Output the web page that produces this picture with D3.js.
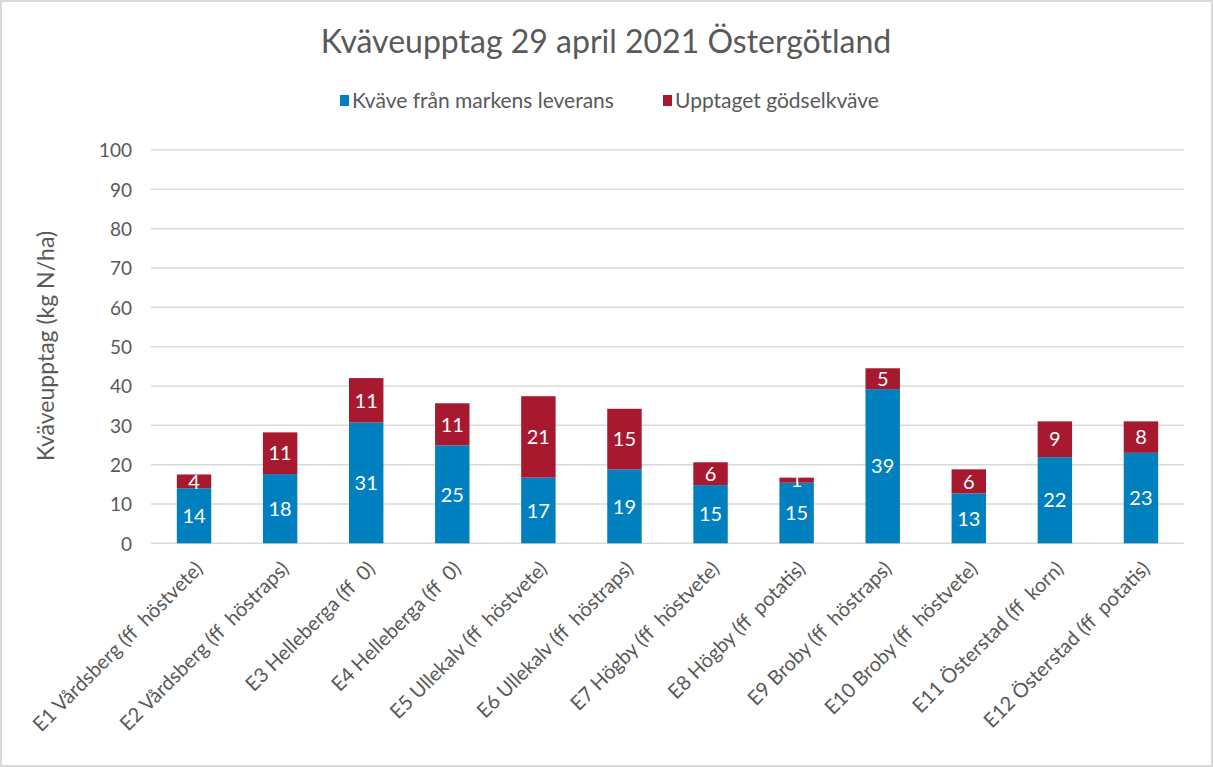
<!DOCTYPE html>
<html>
<head>
<meta charset="utf-8">
<script src="https://cdn.jsdelivr.net/npm/d3@7"></script>
<style>
  body { margin: 0; background: #fff; }
  text { font-family: Lato, "Open Sans", sans-serif; }
</style>
</head>
<body>
<div id="chart"></div>
<script>
var categories = [
  'E1 Vårdsberg (ff  höstvete)',
  'E2 Vårdsberg (ff  höstraps)',
  'E3 Helleberga (ff  0)',
  'E4 Helleberga (ff  0)',
  'E5 Ullekalv (ff  höstvete)',
  'E6 Ullekalv (ff  höstraps)',
  'E7 Högby (ff  höstvete)',
  'E8 Högby (ff  potatis)',
  'E9 Broby (ff  höstraps)',
  'E10 Broby (ff  höstvete)',
  'E11 Österstad (ff  korn)',
  'E12 Österstad (ff  potatis)'
]
var markValues = [14.0, 17.6, 30.7, 24.9, 16.7, 18.8, 14.8, 15.4, 39.2, 12.7, 21.9, 23.0]
var godselValues = [3.5, 10.6, 11.3, 10.7, 20.7, 15.4, 5.8, 1.3, 5.3, 6.1, 9.1, 8.0]
var seriesNames = ['Kväve från markens leverans', 'Upptaget gödselkväve']
var yTicks = [0, 10, 20, 30, 40, 50, 60, 70, 80, 90, 100]

var colors = ['#0080bf', '#a6192e']

var width = 1213,
    height = 767,
    margin = {left: 151, right: 29, top: 150, bottom: 224}

var svg = d3.select('#chart')
    .append('svg')
      .attr('width', width)
      .attr('height', height)

svg.append('rect')
    .attr('x', 1).attr('y', 1)
    .attr('width', width - 2).attr('height', height - 2)
    .attr('fill', '#fff')
    .attr('stroke', '#d9d9d9')
    .attr('stroke-width', 2)

var x = d3.scaleBand()
    .domain(categories)
    .range([margin.left, width - margin.right])
    .paddingInner(0.6)
    .paddingOuter(0.3)

var y = d3.scaleLinear()
    .domain([0, 100])
    .range([543.3, margin.top])

// gridlines
svg.append('g')
  .selectAll('line')
  .data(yTicks)
  .join('line')
    .attr('x1', margin.left)
    .attr('x2', width - margin.right)
    .attr('y1', function(d){ return y(d) })
    .attr('y2', function(d){ return y(d) })
    .attr('stroke', '#d9d9d9')
    .attr('stroke-width', 1.5)

// y axis labels
var yAxis = svg.append('g')
    .attr('transform', 'translate(' + (margin.left - 19) + ',0)')
    .call(d3.axisLeft(y).tickValues(yTicks).tickSize(0).tickPadding(0))
yAxis.select('.domain').remove()
yAxis.selectAll('text')
    .attr('fill', '#595959')
    .style('font-size', '19px')
    .style('font-family', 'Lato, sans-serif')
    .attr('dy', '0.36em')

// stacked data
var rows = categories.map(function(c, i){
  return {cat: c, mark: markValues[i], godsel: godselValues[i]}
})
var stacked = d3.stack().keys(['mark', 'godsel'])(rows)

var layers = svg.append('g')
  .selectAll('g')
  .data(stacked)
  .join('g')
    .attr('fill', function(d, i){ return colors[i] })

layers.selectAll('rect')
  .data(function(d){ return d })
  .join('rect')
    .attr('x', function(d){ return x(d.data.cat) })
    .attr('width', x.bandwidth())
    .attr('y', function(d){ return y(d[1]) })
    .attr('height', function(d){ return y(d[0]) - y(d[1]) })

// data labels
var labels = svg.append('g')
stacked.forEach(function(layer){
  labels.selectAll(null)
    .data(layer)
    .join('text')
      .attr('x', function(d){ return x(d.data.cat) + x.bandwidth() / 2 })
      .attr('y', function(d){ return (y(d[0]) + y(d[1])) / 2 })
      .attr('dy', '0.36em')
      .attr('text-anchor', 'middle')
      .attr('fill', '#fff')
      .style('font-size', '20px')
      .text(function(d){ return Math.round(d[1] - d[0]) })
})

// x labels
svg.append('g')
  .selectAll('text')
  .data(categories)
  .join('text')
    .attr('transform', function(d){
      return 'translate(' + (x(d) + x.bandwidth() / 2 + 10) + ',570) rotate(-45)'
    })
    .attr('text-anchor', 'end')
    .attr('fill', '#595959')
    .style('font-size', '20px')
    .style('white-space', 'pre')
    .attr('xml:space', 'preserve')
    .text(function(d){ return d })

// title
svg.append('text')
    .attr('x', 606)
    .attr('y', 53)
    .attr('text-anchor', 'middle')
    .attr('fill', '#595959')
    .style('font-size', '32px')
    .text('Kväveupptag 29 april 2021 Östergötland')

// y title
svg.append('text')
    .attr('transform', 'translate(54,346) rotate(-90)')
    .attr('text-anchor', 'middle')
    .attr('fill', '#595959')
    .style('font-size', '23px')
    .text('Kväveupptag (kg N/ha)')

// legend
var legendX = [340, 663]
var legend = svg.append('g')
  .selectAll('g')
  .data(seriesNames)
  .join('g')
    .attr('transform', function(d, i){ return 'translate(' + legendX[i] + ',95)' })
legend.append('rect')
    .attr('width', 9).attr('height', 11)
    .attr('fill', function(d, i){ return colors[i] })
legend.append('text')
    .attr('x', 12)
    .attr('y', 13)
    .attr('fill', '#595959')
    .style('font-size', '21px')
    .text(function(d){ return d })
</script>
</body>
</html>
